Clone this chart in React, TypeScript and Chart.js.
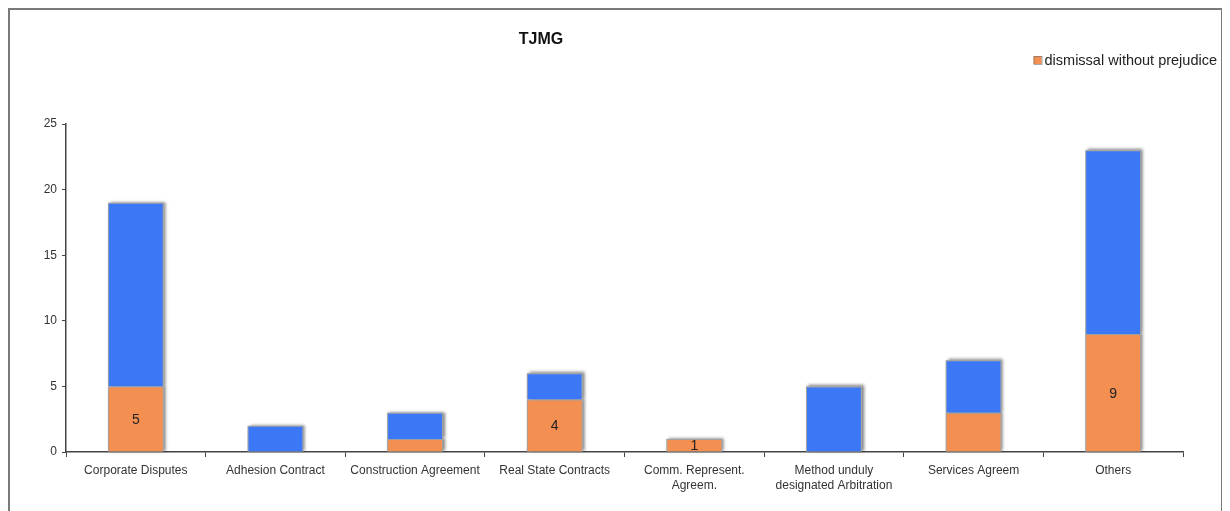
import React, { useEffect, useRef } from "react";
import { Chart, registerables } from "chart.js";

Chart.register(...registerables);

// Categories of disputes (multi-line labels as arrays)
const categories: (string | string[])[] = [
  "Corporate Disputes",
  "Adhesion Contract",
  "Construction Agreement",
  "Real State Contracts",
  ["Comm. Represent.", "Agreem."],
  ["Method unduly", "designated Arbitration"],
  "Services Agreem",
  "Others",
];

// Cases dismissed without prejudice (bottom segment)
const dismissal = [5, 0, 1, 4, 1, 0, 3, 9];
// Remaining cases (top segment)
const remaining = [14, 2, 2, 2, 0, 5, 4, 14];
// Which bottom segments carry a value label
const showValue = [true, false, false, true, true, false, false, true];

const yTicks = { min: 0, max: 25, step: 5 };

const FONT = "'Liberation Sans', Arial, Helvetica, sans-serif";
const ORANGE = "#f38f50";
const BLUE = "#3c78f6";
const EDGE = "#a0a0a0";

// Soft drop shadow behind every bar segment, placed from the bar elements
const barShadow = {
  id: "barShadow",
  beforeDatasetsDraw(chart: any) {
    const ctx = chart.ctx;
    ctx.save();
    ctx.shadowColor = "rgba(0,0,0,0.5)";
    ctx.shadowBlur = 3;
    ctx.shadowOffsetX = 2;
    ctx.shadowOffsetY = -1;
    ctx.fillStyle = "#b0b0b0";
    chart.data.datasets.forEach((_: any, di: number) => {
      chart.getDatasetMeta(di).data.forEach((el: any) => {
        const { x, y, base, width } = el.getProps(["x", "y", "base", "width"], true);
        const h = Math.abs(base - y);
        if (h <= 0) return;
        ctx.fillRect(x - width / 2, Math.min(y, base), width, h);
      });
    });
    ctx.restore();
  },
};

const valueLabels = {
  id: "valueLabels",
  afterDatasetsDraw(chart: any) {
    const ctx = chart.ctx;
    const meta = chart.getDatasetMeta(0);
    ctx.save();
    ctx.font = `14px ${FONT}`;
    ctx.fillStyle = "#222";
    ctx.textAlign = "center";
    ctx.textBaseline = "middle";
    meta.data.forEach((el: any, i: number) => {
      if (!showValue[i] || !dismissal[i]) return;
      const { x, y, base } = el.getProps(["x", "y", "base"], true);
      ctx.fillText(String(dismissal[i]), x, (y + base) / 2 + 1);
    });
    ctx.restore();
  },
};

const header = {
  id: "header",
  afterDraw(chart: any) {
    const ctx = chart.ctx;
    ctx.save();
    // title
    ctx.font = `bold 16px ${FONT}`;
    ctx.fillStyle = "#111";
    ctx.textAlign = "center";
    ctx.textBaseline = "middle";
    ctx.fillText("TJMG", 531, 30);
    // legend (first series only)
    const label = chart.data.datasets[0].label as string;
    ctx.font = `14.5px ${FONT}`;
    ctx.textAlign = "right";
    ctx.fillStyle = "#222";
    const right = 1207;
    const w = ctx.measureText(label).width;
    ctx.fillText(label, right, 51);
    const bx = right - w - 11;
    ctx.fillStyle = ORANGE;
    ctx.fillRect(bx, 46, 8, 8);
    ctx.strokeStyle = "rgba(110,110,110,0.6)";
    ctx.lineWidth = 1;
    ctx.strokeRect(bx + 0.5, 46.5, 8, 8);
    ctx.restore();
  },
};

export default function App() {
  const ref = useRef<HTMLCanvasElement>(null);

  useEffect(() => {
    document.documentElement.style.overflow = "hidden";
    document.body.style.overflow = "hidden";
    const chart = new Chart(ref.current as HTMLCanvasElement, {
      type: "bar",
      data: {
        labels: categories,
        datasets: [
          {
            label: "dismissal without prejudice",
            data: dismissal,
            backgroundColor: ORANGE,
            borderColor: EDGE,
            borderWidth: { top: 1, right: 1, left: 1, bottom: 0 },
            borderSkipped: false,
            categoryPercentage: 0.8,
            barPercentage: 0.5,
          },
          {
            label: "remaining",
            data: remaining,
            backgroundColor: BLUE,
            borderColor: EDGE,
            borderWidth: { top: 1, right: 1, left: 1, bottom: 0 },
            borderSkipped: false,
            categoryPercentage: 0.8,
            barPercentage: 0.5,
          },
        ],
      },
      options: {
        responsive: false,
        animation: false,
        layout: { padding: { left: 0, right: 38, top: 114, bottom: 0 } },
        plugins: {
          legend: { display: false },
          title: { display: false },
          tooltip: { enabled: false },
        },
        scales: {
          x: {
            stacked: true,
            offset: true,
            grid: {
              display: true,
              drawOnChartArea: false,
              drawTicks: true,
              tickLength: 5,
              offset: true,
              color: "#444",
            },
            border: { color: "#444", width: 1.5 },
            ticks: {
              font: { size: 12, family: FONT, lineHeight: 1.25 },
              color: "#333",
              padding: 6,
              maxRotation: 0,
              autoSkip: false,
            },
            afterFit(s: any) {
              s.height = 59;
            },
          },
          y: {
            stacked: true,
            min: yTicks.min,
            max: yTicks.max,
            ticks: {
              stepSize: yTicks.step,
              font: { size: 12, family: FONT },
              color: "#333",
              padding: 5,
            },
            grid: {
              drawOnChartArea: false,
              drawTicks: true,
              tickLength: 4,
              color: "#444",
            },
            border: { color: "#444", width: 1.5 },
            afterFit(s: any) {
              s.width = 56;
            },
          },
        },
      },
      plugins: [barShadow, valueLabels, header],
    });
    return () => chart.destroy();
  }, []);

  return (
    <div
      style={{
        width: 1211,
        height: 501,
        borderTop: "2px solid #7a7a7a",
        borderLeft: "2px solid #7a7a7a",
        borderRight: "2px solid #7a7a7a",
        background: "#fff",
      }}
    >
      <canvas ref={ref} width={1211} height={501} style={{ display: "block" }} />
    </div>
  );
}
